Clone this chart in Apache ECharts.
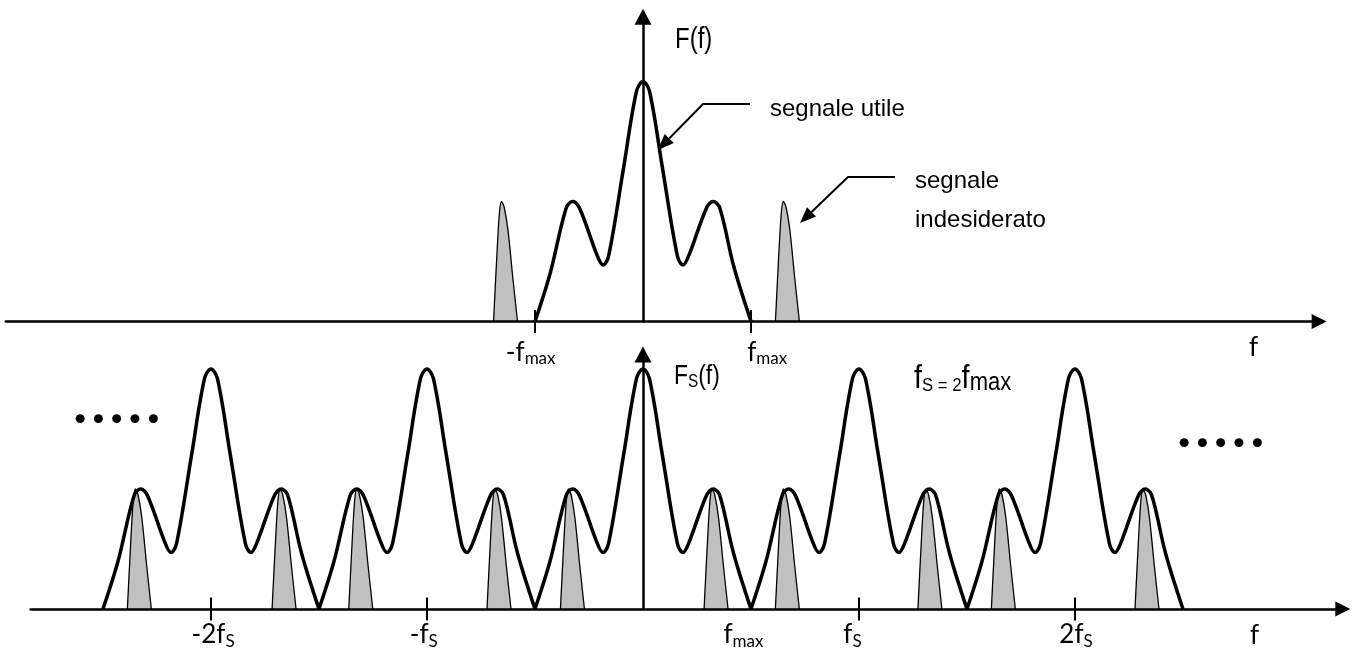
<!DOCTYPE html>
<html>
<head>
<meta charset="utf-8">
<script src="https://cdn.jsdelivr.net/npm/echarts@6/dist/echarts.min.js"></script>
<style>
  html, body { margin: 0; padding: 0; background: #fff; }
  #main { width: 1354px; height: 653px; }
</style>
</head>
<body>
<div id="main"></div>
<script>
// useful spectrum F(f), x in units of fmax, height relative to the central peak
var shapeX = [-1.0, -0.86, -0.71, -0.65, -0.59, -0.42, -0.37, -0.32, -0.18, -0.06, 0,
              0.06, 0.18, 0.32, 0.37, 0.42, 0.59, 0.65, 0.71, 0.84, 1.0];
var shapeY = [0, 0.2, 0.475, 0.5, 0.475, 0.27, 0.235, 0.27, 0.64, 0.96, 1.0,
              0.96, 0.64, 0.27, 0.235, 0.27, 0.475, 0.5, 0.475, 0.23, 0];
// narrow unwanted component, x is offset from its own peak
var spikeX = [-0.074, -0.045, -0.02, 0, 0.025, 0.06, 0.105, 0.148];
var spikeY = [0, 0.26, 0.45, 0.5, 0.475, 0.38, 0.18, 0];
var topSpikes = [-1.31, 1.30];
// sampled spectrum: copies at k*fs, fs = 2 fmax
var copyCenters = [-4, -2, 0, 2, 4];
var bottomSpikes = [-4.70, -3.36, -2.65, -1.37, -0.69, 0.64, 1.30, 2.62, 3.30, 4.63];
// ticks and tick labels
var topTicks = [-1, 1];
var topLabelPos = [-1.04, 1.15];
var topLabels = [['-f', 'max'], ['f', 'max']];
var bottomTicks = [-4, -2, 2, 4];
var bottomLabelPos = [-3.98, -2.03, 0.93, 1.94, 4.01];
var bottomLabels = [['-2f', 'S'], ['-f', 'S'], ['f', 'max'], ['f', 'S'], ['2f', 'S']];

var ARIAL = '"Liberation Sans", Arial, sans-serif';
var LABEL = 'Lato, "Noto Sans", sans-serif';

var chart = echarts.init(document.getElementById('main'));

function shifted(xs, ys, dx) {
  return xs.map(function (x, i) { return [+(x + dx).toFixed(3), ys[i]]; });
}

function labelFormatter(pos, labels) {
  return function (v) {
    for (var i = 0; i < pos.length; i++) {
      if (Math.abs(pos[i] - v) < 1e-6) return '{m|' + labels[i][0] + '}{s|' + labels[i][1] + '}';
    }
    return '';
  };
}

var labelRich = {
  m: { fontFamily: LABEL, fontSize: 26, color: '#000', lineHeight: 30 },
  s: { fontFamily: LABEL, fontSize: 17, color: '#000', lineHeight: 12, verticalAlign: 'bottom' }
};

function mainAxis(grid, min, max, ticks, labelPos, labels, margin) {
  return {
    type: 'value', gridIndex: grid, min: min, max: max, position: 'bottom', z: 3,
    axisLine: { show: true, lineStyle: { color: '#000', width: 2.5 }, symbol: ['none', 'triangle'], symbolSize: [15, 15] },
    axisTick: { show: true, customValues: ticks, length: 11.5, lineStyle: { color: '#000', width: 2 } },
    axisLabel: { show: true, customValues: labelPos, margin: margin, formatter: labelFormatter(labelPos, labels), rich: labelRich },
    splitLine: { show: false }
  };
}

function innerTickAxis(grid, min, max, ticks) {
  return {
    type: 'value', gridIndex: grid, min: min, max: max, position: 'bottom', z: 3,
    axisLine: { show: false },
    axisTick: { show: true, inside: true, customValues: ticks, length: 11.5, lineStyle: { color: '#000', width: 2 } },
    axisLabel: { show: false },
    splitLine: { show: false }
  };
}

function yAxisOf(grid, max) {
  return {
    type: 'value', gridIndex: grid, min: 0, max: max, z: 5,
    axisLine: { show: true, onZero: true, lineStyle: { color: '#000', width: 2.5 }, symbol: ['none', 'triangle'], symbolSize: [17, 16] },
    axisTick: { show: false }, axisLabel: { show: false }, splitLine: { show: false }
  };
}

var series = [];
function addSpike(c, xi, yi) {
  series.push({
    type: 'line', xAxisIndex: xi, yAxisIndex: yi, data: shifted(spikeX, spikeY, c),
    smooth: 0.3, symbol: 'none', silent: true, z: 2,
    lineStyle: { color: '#000', width: 1.3 },
    areaStyle: { color: '#c0c0c0', opacity: 1 }
  });
}
function addCopy(c, xi, yi) {
  series.push({
    type: 'line', xAxisIndex: xi, yAxisIndex: yi, data: shifted(shapeX, shapeY, c),
    smooth: 0.35, symbol: 'none', silent: true, z: 4,
    lineStyle: { color: '#000', width: 3.5 }
  });
}
topSpikes.forEach(function (c) { addSpike(c, 0, 0); });
addCopy(0, 0, 0);
bottomSpikes.forEach(function (c) { addSpike(c, 2, 1); });
copyCenters.forEach(function (c) { addCopy(c, 2, 1); });

// annotation arrows
function arrow(points, len, wid) {
  var t = points[points.length - 1], p = points[points.length - 2];
  var dx = t[0] - p[0], dy = t[1] - p[1], d = Math.sqrt(dx * dx + dy * dy);
  var ux = dx / d, uy = dy / d;
  var bx = t[0] - ux * len, by = t[1] - uy * len;
  return [
    { type: 'polyline', shape: { points: points.slice(0, -1).concat([[bx, by]]) }, style: { stroke: '#000', lineWidth: 2, fill: null }, z: 10 },
    { type: 'polygon', shape: { points: [t, [bx - uy * wid / 2, by + ux * wid / 2], [bx + uy * wid / 2, by - ux * wid / 2]] }, style: { fill: '#000' }, z: 10 }
  ];
}

var graphics = []
  .concat(arrow([[750, 104], [703, 104], [658, 150]], 16, 13))
  .concat(arrow([[895, 177], [848, 177], [800, 223]], 16, 13))
  .concat([
    { type: 'text', x: 675, y: 40, scaleX: 0.8, style: { text: 'F(f)', font: '30px ' + ARIAL, fill: '#000', verticalAlign: 'middle' } },
    { type: 'text', x: 770, y: 109, style: { text: 'segnale utile', font: '24px ' + ARIAL, fill: '#000', verticalAlign: 'middle' } },
    { type: 'text', x: 915, y: 181, style: { text: 'segnale', font: '24px ' + ARIAL, fill: '#000', verticalAlign: 'middle' } },
    { type: 'text', x: 915, y: 220, style: { text: 'indesiderato', font: '24px ' + ARIAL, fill: '#000', verticalAlign: 'middle' } },
    { type: 'text', x: 674, y: 377, scaleX: 0.85, style: {
        text: '{a|F}{b|S}{a|(f)}', verticalAlign: 'middle',
        rich: {
          a: { fontFamily: ARIAL, fontSize: 27, lineHeight: 28, fill: '#000' },
          b: { fontFamily: ARIAL, fontSize: 18, lineHeight: 17, verticalAlign: 'bottom', fill: '#000' }
        } } },
    { type: 'text', x: 914, y: 379, scaleX: 0.88, style: {
        text: '{a|f}{b|S = 2}{a|f}{c|max}', verticalAlign: 'middle',
        rich: {
          a: { fontFamily: ARIAL, fontSize: 33, lineHeight: 33, verticalAlign: 'bottom', fill: '#000' },
          b: { fontFamily: ARIAL, fontSize: 19, lineHeight: 19, verticalAlign: 'bottom', fill: '#000' },
          c: { fontFamily: ARIAL, fontSize: 25, lineHeight: 25, verticalAlign: 'bottom', fill: '#000' }
        } } },
    { type: 'text', x: 1249, y: 348, style: { text: 'f', font: '26px ' + LABEL, fill: '#000', verticalAlign: 'middle' } },
    { type: 'text', x: 1250, y: 636, style: { text: 'f', font: '26px ' + LABEL, fill: '#000', verticalAlign: 'middle' } },
    { type: 'text', x: 71, y: 422, style: { text: '•••••', font: '31px "DejaVu Sans"', fill: '#000', verticalAlign: 'middle' } },
    { type: 'text', x: 1175, y: 446, style: { text: '•••••', font: '31px "DejaVu Sans"', fill: '#000', verticalAlign: 'middle' } }
  ]);

var option = {
  animation: false,
  backgroundColor: '#fff',
  grid: [
    { left: 5.8, top: 16.7, width: 1313.3, height: 304.8, outerBoundsMode: 'none' },
    { left: 30.6, top: 354.6, width: 1312.2, height: 254.4, outerBoundsMode: 'none' }
  ],
  xAxis: [
    mainAxis(0, -5.9, 6.26, topTicks, topLabelPos, topLabels, 16),
    innerTickAxis(0, -5.9, 6.26, topTicks),
    mainAxis(1, -5.67, 6.48, bottomTicks, bottomLabelPos, bottomLabels, 11),
    innerTickAxis(1, -5.67, 6.48, bottomTicks)
  ],
  yAxis: [yAxisOf(0, 1.27), yAxisOf(1, 1.06)],
  series: series,
  graphic: graphics
};
chart.setOption(option);
</script>
</body>
</html>
